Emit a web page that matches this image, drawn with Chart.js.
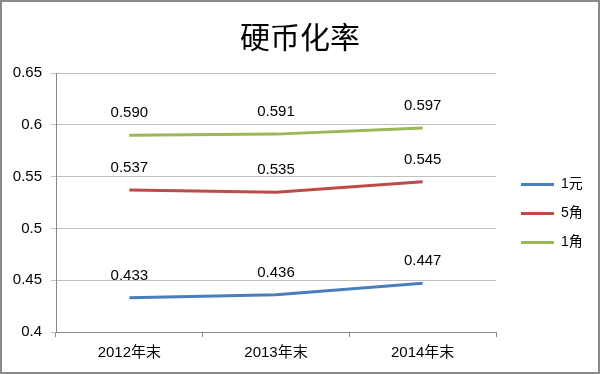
<!DOCTYPE html>
<html>
<head>
<meta charset="utf-8">
<script src="https://cdn.jsdelivr.net/npm/chart.js@4"></script>
<style>
  html, body { margin: 0; padding: 0; background: #fff; }
  #wrap { width: 600px; height: 374px; box-sizing: border-box; border: 2px solid #8a8a8a; background: #fff; }
  #wrap canvas { display: block; }
</style>
</head>
<body>
<div id="wrap"><canvas id="c" width="596" height="370"></canvas></div>
<script>
const categories = ['2012年末', '2013年末', '2014年末'];
const seriesNames = ['1元', '5角', '1角'];
const values1Yuan = [0.433, 0.436, 0.447];
const values5Jiao = [0.537, 0.535, 0.545];
const values1Jiao = [0.590, 0.591, 0.597];
const yTickValues = [0.4, 0.45, 0.5, 0.55, 0.6, 0.65];
const seriesColors = ['#4A7EBB', '#BE4B48', '#98B954'];

const FONT = "'Liberation Sans', 'Noto Sans CJK SC', sans-serif";

const dataLabelPlugin = {
  id: 'dataLabels',
  afterDatasetsDraw(chart) {
    const ctx = chart.ctx;
    ctx.save();
    ctx.font = '15px ' + FONT;
    ctx.fillStyle = '#000';
    ctx.textAlign = 'center';
    ctx.textBaseline = 'middle';
    chart.data.datasets.forEach((ds, di) => {
      const meta = chart.getDatasetMeta(di);
      meta.data.forEach((el, i) => {
        ctx.fillText(ds.data[i].toFixed(3), el.x, el.y - 22);
      });
    });
    ctx.restore();
  }
};

const legendPlacePlugin = {
  id: 'legendPlace',
  afterInit(chart) {
    const lg = chart.legend;
    const origFit = lg.fit.bind(lg);
    lg.fit = function () { origFit(); this.width = 102; };
  },
  afterLayout(chart) {
    const lg = chart.legend;
    lg.left += 10;
    lg.right += 10;
    lg.top += 28;
    lg.bottom += 28;
  }
};

new Chart(document.getElementById('c'), {
  type: 'line',
  data: {
    labels: categories,
    datasets: [
      { label: seriesNames[0], data: values1Yuan, borderColor: seriesColors[0], backgroundColor: seriesColors[0] },
      { label: seriesNames[1], data: values5Jiao, borderColor: seriesColors[1], backgroundColor: seriesColors[1] },
      { label: seriesNames[2], data: values1Jiao, borderColor: seriesColors[2], backgroundColor: seriesColors[2] }
    ]
  },
  options: {
    responsive: false,
    animation: false,
    devicePixelRatio: 1,
    layout: { padding: { top: 0, left: 0, right: 0, bottom: 3 } },
    elements: {
      line: { borderWidth: 3, tension: 0 },
      point: { radius: 0, hoverRadius: 0 }
    },
    plugins: {
      title: {
        display: true,
        text: '硬币化率',
        color: '#000',
        font: { family: "'Noto Sans CJK SC', sans-serif", size: 30, weight: 'normal', lineHeight: 1.2 },
        padding: { top: 17, bottom: 18 }
      },
      legend: {
        display: true,
        position: 'right',
        labels: {
          color: '#000',
          font: { family: FONT, size: 14 },
          boxWidth: 33,
          boxHeight: 3,
          padding: 15,
          generateLabels(chart) {
            const items = Chart.defaults.plugins.legend.labels.generateLabels(chart);
            return items.map(it => Object.assign(it, { lineWidth: 0, fillStyle: it.strokeStyle }));
          }
        }
      },
      tooltip: { enabled: false }
    },
    scales: {
      x: {
        offset: true,
        grid: { display: true, drawOnChartArea: false, drawTicks: true, tickLength: 5, offset: true, color: '#868686' },
        border: { display: true, color: '#868686', width: 1 },
        ticks: { color: '#000', font: { family: FONT, size: 15 }, padding: 7, maxRotation: 0 }
      },
      y: {
        min: 0.4,
        max: 0.65,
        afterBuildTicks(scale) { scale.ticks = yTickValues.map(v => ({ value: v })); },
        afterFit(scale) { scale.width = 54; },
        grid: { color: '#C0C0C0', tickLength: 5, drawTicks: true },
        border: { display: true, color: '#868686', width: 1 },
        ticks: {
          color: '#000',
          font: { family: FONT, size: 15 },
          padding: 9,
          callback: (v) => String(parseFloat(Number(v).toFixed(2)))
        }
      }
    }
  },
  plugins: [dataLabelPlugin, legendPlacePlugin]
});
</script>
</body>
</html>
